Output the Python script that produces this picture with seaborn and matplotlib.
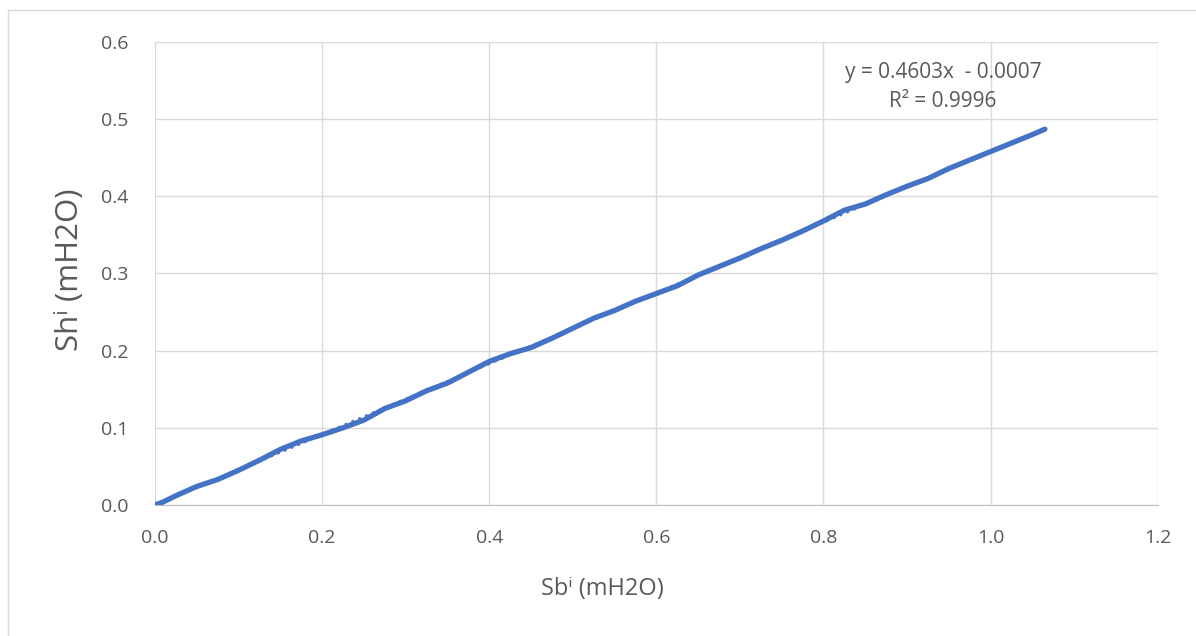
from matplotlib import pyplot as plt
import numpy as np
import pandas as pd
import seaborn as sns

# values
sb = [0.0, 0.01, 0.025, 0.05, 0.075, 0.1, 0.125, 0.15, 0.175, 0.2, 0.225, 0.25,
      0.275, 0.3, 0.325, 0.35, 0.375, 0.4, 0.425, 0.45, 0.475, 0.5, 0.525, 0.55,
      0.575, 0.6, 0.625, 0.65, 0.675, 0.7, 0.725, 0.75, 0.775, 0.8, 0.825, 0.85,
      0.875, 0.9, 0.925, 0.95, 0.975, 1.0, 1.025, 1.05, 1.065]
sh = [0.0, 0.004, 0.012, 0.024, 0.033, 0.045, 0.058, 0.072, 0.083, 0.091, 0.100, 0.110,
      0.125, 0.135, 0.148, 0.158, 0.172, 0.186, 0.196, 0.204, 0.216, 0.229, 0.242, 0.252,
      0.264, 0.274, 0.284, 0.298, 0.309, 0.320, 0.332, 0.343, 0.355, 0.368, 0.382, 0.390,
      0.402, 0.413, 0.423, 0.436, 0.447, 0.458, 0.469, 0.480, 0.487]
x_ticks = [0.0, 0.2, 0.4, 0.6, 0.8, 1.0, 1.2]
y_ticks = [0.0, 0.1, 0.2, 0.3, 0.4, 0.5, 0.6]
eq_text = "y = 0.4603x  - 0.0007"
r2_text = "R² = 0.9996"

df = pd.DataFrame({"sb": sb, "sh": sh})

sns.set_style("white")
plt.rcParams['font.family'] = ['Open Sans', 'DejaVu Sans']

f = plt.figure(figsize=(11.96, 6.36), dpi=100)
ax = f.add_axes([0.1296, 0.206, 0.8384, 0.728])

sns.lineplot(data=df, x="sb", y="sh", color="#4472C4", linewidth=3.8, ax=ax, zorder=3)
sns.regplot(data=df, x="sb", y="sh", scatter=False, ci=None, truncate=True, ax=ax,
            line_kws=dict(color="#4472C4", linestyle=":", linewidth=2))

ax.set_xlim(0, 1.2)
ax.set_ylim(0, 0.6)
ax.set_xticks(x_ticks)
ax.set_yticks(y_ticks)
ax.set_xticklabels([f"{v:.1f}" for v in x_ticks])
ax.set_yticklabels([f"{v:.1f}" for v in y_ticks])
ax.tick_params(colors="#595959", labelsize=14, length=0)
ax.tick_params(axis="x", pad=17)
ax.tick_params(axis="y", pad=19)
ax.grid(True, color="#d9d9d9", linewidth=1)
for s in ["top", "right", "left"]:
    ax.spines[s].set_visible(False)
ax.spines["bottom"].set_color("#bfbfbf")

ax.set_xlabel("Sbⁱ (mH2O)", size=17, color="#595959")
ax.set_ylabel("Shⁱ (mH2O)", size=22.5, color="#595959")
ax.xaxis.set_label_coords(0.446, -0.155)
ax.yaxis.set_label_coords(-0.07, 0.507)

ax.text(0.943, 0.561, eq_text, ha="center", va="center", size=15, color="#595959")
ax.text(0.943, 0.5235, r2_text, ha="center", va="center", size=15, color="#595959")

# chart border
f.patches.append(plt.Rectangle((0.0067, -0.1), 1.1, 1.0843, transform=f.transFigure,
                               fill=False, edgecolor="#d9d9d9", linewidth=1))

plt.savefig("out.png", dpi=100)
